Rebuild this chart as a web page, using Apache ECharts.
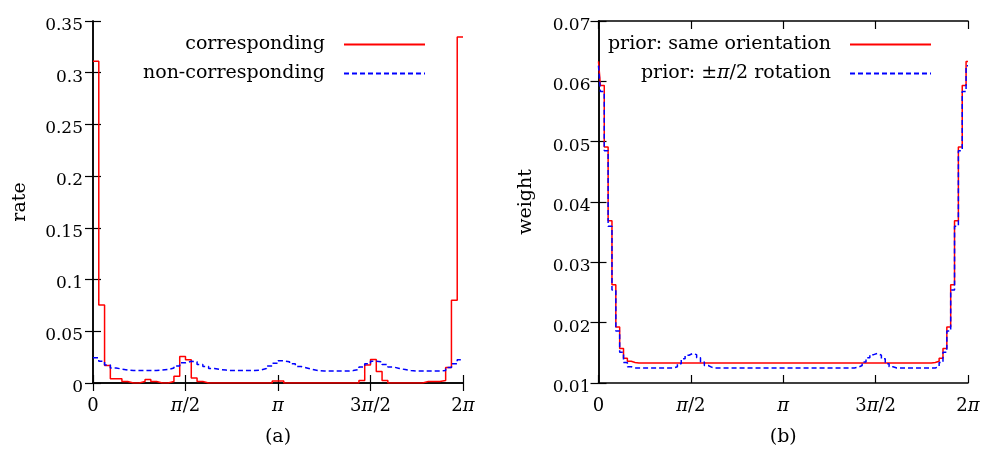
<!DOCTYPE html>
<html><head><meta charset="utf-8">
<script src="https://cdn.jsdelivr.net/npm/echarts@6/dist/echarts.min.js"></script>
<style>html,body{margin:0;padding:0;background:#fff}#c{width:991px;height:452px}</style>
</head><body><div id="c"></div>
<script>
// ---- data ----
const xTickValues = [0, 90, 180, 270, 360];            // degrees: 0, π/2, π, 3π/2, 2π
const xTickLabels = ['0', '{i|π}/2', '{i|π}', '3{i|π}/2', '2{i|π}'];
const seriesNamesA = ['corresponding', 'non-corresponding'];
const seriesNamesB = ['prior: same orientation', 'prior: ±π/2 rotation'];
const binsA = 64;   // histogram bins over [0, 2π] in panel (a)
const correspondingRate = [
  0.311, 0.0755, 0.0168, 0.004, 0.004, 0.0015, 0, 0, 0.0015, 0.0035, 0.0015, 0, 0, 0.0015, 0.0066, 0.0257,
  0.0225, 0.0048, 0.0015, 0, 0, 0, 0, 0, 0, 0, 0, 0, 0, 0, 0, 0.002,
  0.002, 0, 0, 0, 0, 0, 0, 0, 0, 0, 0, 0, 0, 0, 0.0025, 0.0175,
  0.0228, 0.011, 0.0025, 0, 0, 0, 0, 0, 0, 0.0015, 0.0015, 0.0015, 0.0025, 0.015, 0.080, 0.3345
];
const nonCorrespondingRate = [
  0.0245, 0.021, 0.0175, 0.0145, 0.0135, 0.0125, 0.012, 0.012, 0.012, 0.012, 0.012, 0.0125, 0.013, 0.0145, 0.0165, 0.0195,
  0.021, 0.0205, 0.018, 0.016, 0.014, 0.013, 0.0125, 0.012, 0.012, 0.012, 0.012, 0.012, 0.0125, 0.014, 0.0165, 0.019,
  0.0215, 0.0205, 0.0185, 0.016, 0.0145, 0.013, 0.012, 0.0115, 0.0115, 0.0115, 0.0115, 0.0115, 0.012, 0.013, 0.0155, 0.0185,
  0.021, 0.0205, 0.018, 0.0155, 0.014, 0.013, 0.012, 0.0115, 0.0115, 0.0115, 0.0115, 0.0115, 0.012, 0.015, 0.0185, 0.0225
];
const binsB = 96;   // sample spacing over [0, 2π] in panel (b), 97 samples
const priorSameWeight = [
  0.0633, 0.0593, 0.0491, 0.0369, 0.0263, 0.0193, 0.0157, 0.0141, 0.0136, 0.0134,
  0.0133, 0.0133, 0.0133, 0.0133, 0.0133, 0.0133, 0.0133, 0.0133, 0.0133, 0.0133, 0.0133,
  0.0133, 0.0133, 0.0133, 0.0133, 0.0133, 0.0133, 0.0133, 0.0133, 0.0133, 0.0133, 0.0133,
  0.0133, 0.0133, 0.0133, 0.0133, 0.0133, 0.0133, 0.0133, 0.0133, 0.0133, 0.0133, 0.0133,
  0.0133, 0.0133, 0.0133, 0.0133, 0.0133, 0.0133, 0.0133, 0.0133, 0.0133, 0.0133, 0.0133,
  0.0133, 0.0133, 0.0133, 0.0133, 0.0133, 0.0133, 0.0133, 0.0133, 0.0133, 0.0133, 0.0133,
  0.0133, 0.0133, 0.0133, 0.0133, 0.0133, 0.0133, 0.0133, 0.0133, 0.0133, 0.0133, 0.0133,
  0.0133, 0.0133, 0.0133, 0.0133, 0.0133, 0.0133, 0.0133, 0.0133, 0.0133, 0.0133, 0.0133,
  0.0134, 0.0136, 0.0141, 0.0157, 0.0193, 0.0263, 0.0369, 0.0491, 0.0593, 0.0633
];
const priorRotWeight = [
  0.0626, 0.0583, 0.0485, 0.0360, 0.0254, 0.0186, 0.0151, 0.0134, 0.0127,
  0.0125, 0.0125, 0.0125, 0.0125, 0.0125, 0.0125, 0.0125, 0.0125, 0.0125, 0.0125, 0.0125,
  0.0127, 0.0132, 0.0140, 0.0146, 0.0149, 0.0147, 0.0142, 0.0135, 0.0129, 0.0126,
  0.0125, 0.0125, 0.0125, 0.0125, 0.0125, 0.0125, 0.0125, 0.0125, 0.0125, 0.0125, 0.0125, 0.0125,
  0.0125, 0.0125, 0.0125, 0.0125, 0.0125, 0.0125, 0.0125, 0.0125, 0.0125, 0.0125, 0.0125, 0.0125,
  0.0125, 0.0125, 0.0125, 0.0125, 0.0125, 0.0125, 0.0125, 0.0125, 0.0125, 0.0125, 0.0125, 0.0125,
  0.0125,
  0.0126, 0.0129, 0.0135, 0.0142, 0.0147, 0.0149, 0.0146, 0.0140, 0.0132, 0.0127,
  0.0125, 0.0125, 0.0125, 0.0125, 0.0125, 0.0125, 0.0125, 0.0125, 0.0125, 0.0125, 0.0125,
  0.0127, 0.0134, 0.0151, 0.0186, 0.0254, 0.0360, 0.0485, 0.0583, 0.0626
];
const yTicksA = { min: 0, max: 0.35, interval: 0.05 };
const yTicksB = { min: 0.01, max: 0.07, interval: 0.01 };

// ---- build ----
const F = 'DejaVu Serif';
const FS_NUM = 17;   // numeric tick labels
const FS_X = 18;     // π tick labels
const FS_TXT = 19;   // legend / axis names / captions
const RED = '#ff0000', BLUE = '#0000ff';

function histSteps(vals, n) {               // bin edges, step 'end'
  const d = vals.map((v, k) => [k * 360 / n, v]);
  d.push([360, vals[vals.length - 1]]);
  return d;
}
function samples(vals, n) { return vals.map((v, k) => [k * 360 / n, v]); }

const labelMap = {};
xTickValues.forEach((v, i) => labelMap[v] = xTickLabels[i]);
const richX = { i: { fontFamily: F, fontSize: FS_X, fontStyle: 'italic', color: '#000' } };
const richL = { i: { fontFamily: F, fontSize: FS_TXT, fontStyle: 'italic', color: '#000' } };
const richY = { n: { fontFamily: F, fontSize: FS_NUM, color: '#000', padding: [9, 0, 0, 0] } };

function xAxes(grid, caption) {
  const common = {
    type: 'value', gridIndex: grid, min: 0, max: 360, interval: 90,
    axisLine: { lineStyle: { color: '#000', width: 1.5 } },
    axisTick: { inside: true, length: 8, lineStyle: { color: '#000', width: 1.2 } },
    splitLine: { show: false }
  };
  return [
    Object.assign({}, common, {
      position: 'bottom',
      name: caption, nameLocation: 'middle', nameGap: 45,
      nameTextStyle: { fontFamily: F, fontSize: FS_TXT, color: '#000' },
      axisLabel: { margin: 14, fontFamily: F, fontSize: FS_X, color: '#000', rich: richX,
        formatter: v => labelMap[Math.round(v)] !== undefined ? labelMap[Math.round(v)] : '' }
    }),
    Object.assign({}, common, { position: 'top', axisLabel: { show: false } })
  ];
}
function yAxes(grid, t, name, digits, margin) {
  const common = {
    type: 'value', gridIndex: grid, min: t.min, max: t.max, interval: t.interval,
    axisLine: { show: true, lineStyle: { color: '#000', width: 1.5 } },
    axisTick: { show: true, inside: true, length: 8, lineStyle: { color: '#000', width: 1.2 } },
    splitLine: { show: false }
  };
  return [
    Object.assign({}, common, {
      position: 'left',
      name: name, nameLocation: 'middle', nameGap: 63, nameRotate: 90,
      nameTextStyle: { fontFamily: F, fontSize: FS_TXT, color: '#000' },
      axisLabel: { margin: margin, fontFamily: F, fontSize: FS_NUM, color: '#000', rich: richY,
        formatter: v => '{n|' + String(parseFloat(v.toFixed(digits))) + '}' }
    }),
    Object.assign({}, common, { position: 'right', axisLabel: { show: false } })
  ];
}
function legend(name, top, right) {
  return {
    data: [name], top: top, right: right, orient: 'vertical', align: 'right',
    itemWidth: 81, itemHeight: 14, padding: 0,
    itemStyle: { opacity: 0 },
    formatter: n => n.replace('π', '{i|π}'),
    textStyle: { fontFamily: F, fontSize: FS_TXT, color: '#000', padding: [0, 14, 0, 0], rich: richL }
  };
}
function lineSeries(name, data, color, dashed, xi, yi, step) {
  return {
    type: 'line', name, data, xAxisIndex: xi, yAxisIndex: yi, step,
    symbol: 'none', showSymbol: false, animation: false, silent: true,
    lineStyle: { color, width: 1.5, type: dashed ? [5, 3] : 'solid' },
    itemStyle: { color }
  };
}

const chart = echarts.init(document.getElementById('c'), null, { renderer: 'canvas' });
chart.setOption({
  animation: false,
  backgroundColor: '#fff',
  grid: [
    { left: 93, top: 21, width: 370, height: 368 },
    { left: 598.5, top: 21, width: 369.5, height: 368 }
  ],
  legend: [
    legend(seriesNamesA[0], 35, 565),
    legend(seriesNamesA[1], 64, 565),
    legend(seriesNamesB[0], 35, 59),
    legend(seriesNamesB[1], 64, 59)
  ],
  xAxis: [...xAxes(0, '(a)'), ...xAxes(1, '(b)')],
  yAxis: [...yAxes(0, yTicksA, 'rate', 2, 10), ...yAxes(1, yTicksB, 'weight', 2, 8)],
  series: [
    lineSeries(seriesNamesA[0], histSteps(correspondingRate, binsA), RED, false, 0, 0, 'end'),
    lineSeries(seriesNamesA[1], histSteps(nonCorrespondingRate, binsA), BLUE, true, 0, 0, 'end'),
    lineSeries(seriesNamesB[0], samples(priorSameWeight, binsB), RED, false, 2, 2, 'middle'),
    lineSeries(seriesNamesB[1], samples(priorRotWeight, binsB), BLUE, true, 2, 2, 'middle')
  ]
});
</script></body></html>
